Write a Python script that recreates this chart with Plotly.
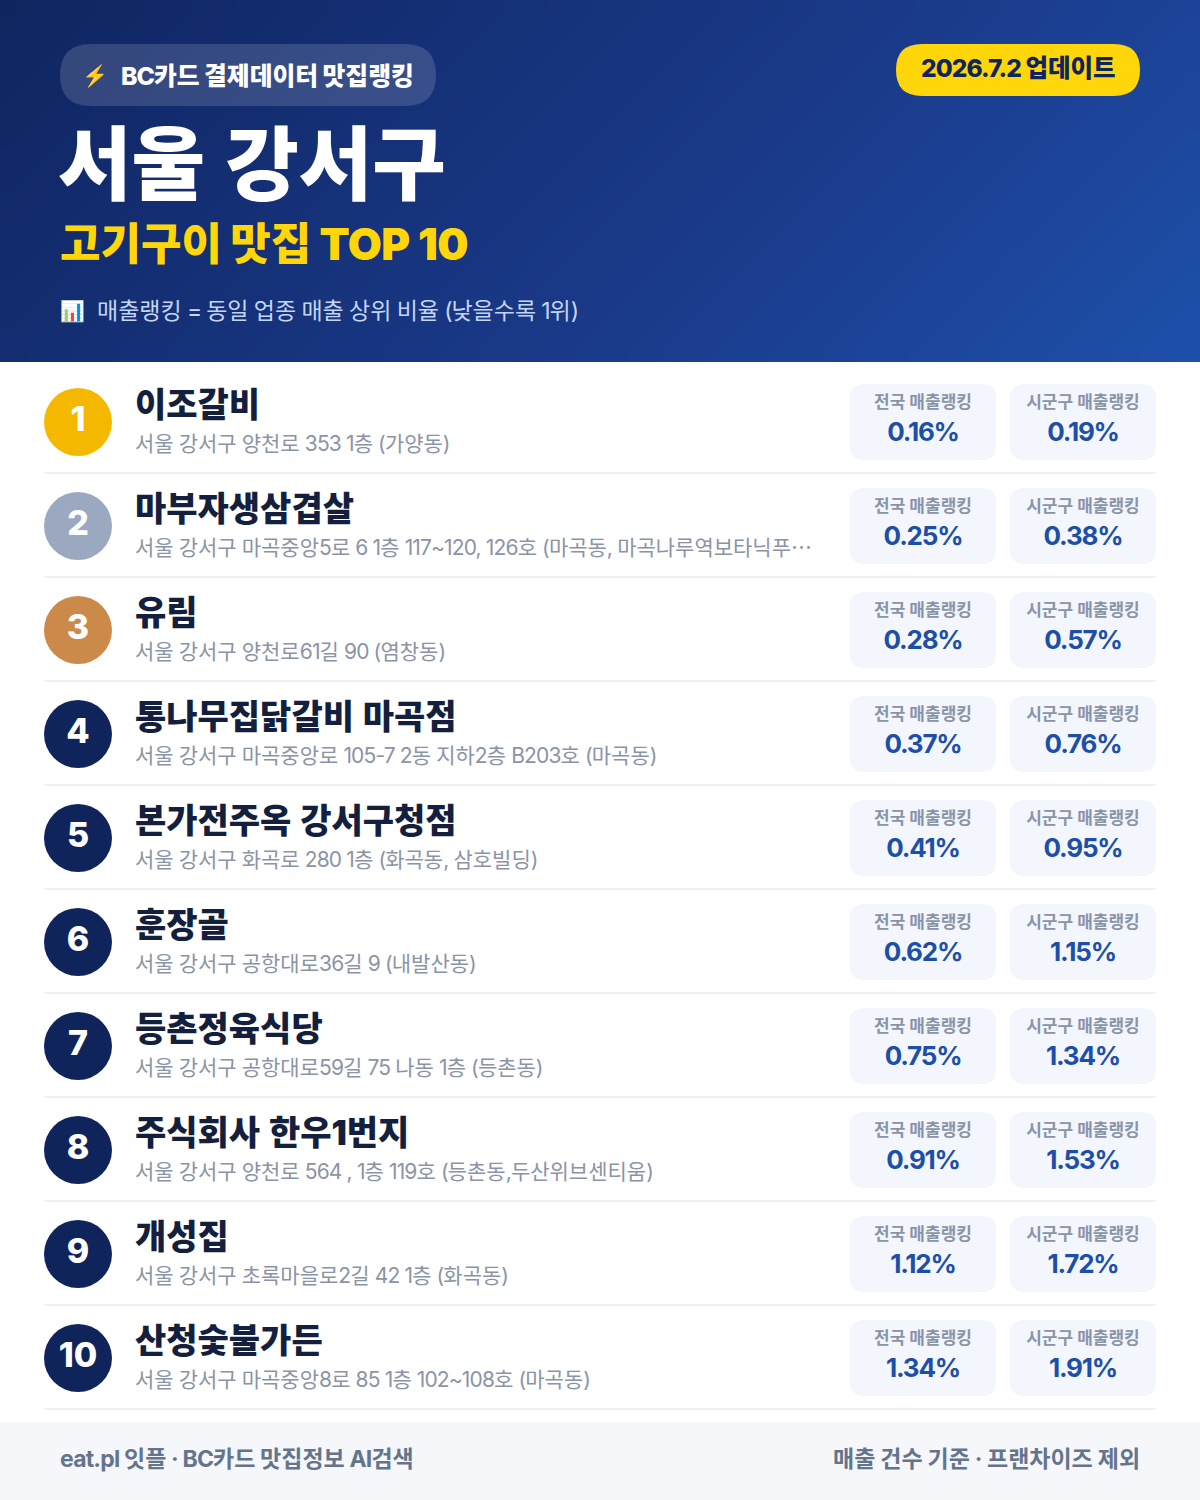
import re
import numpy as np
import plotly.graph_objects as go

ranks = list(range(1, 11))
names = ["이조갈비", "마부자생삼겹살", "유림", "통나무집닭갈비 마곡점", "본가전주옥 강서구청점",
         "훈장골", "등촌정육식당", "주식회사 한우1번지", "개성집", "산청숯불가든"]
addresses = [
    "서울 강서구 양천로 353 1층 (가양동)",
    "서울 강서구 마곡중앙5로 6 1층 117~120, 126호 (마곡동, 마곡나루역보타닉푸⋯",
    "서울 강서구 양천로61길 90 (염창동)",
    "서울 강서구 마곡중앙로 105-7 2동 지하2층 B203호 (마곡동)",
    "서울 강서구 화곡로 280 1층 (화곡동, 삼호빌딩)",
    "서울 강서구 공항대로36길 9 (내발산동)",
    "서울 강서구 공항대로59길 75 나동 1층 (등촌동)",
    "서울 강서구 양천로 564 , 1층 119호 (등촌동,두산위브센티움)",
    "서울 강서구 초록마을로2길 42 1층 (화곡동)",
    "서울 강서구 마곡중앙8로 85 1층 102~108호 (마곡동)",
]
national_pct = [0.16, 0.25, 0.28, 0.37, 0.41, 0.62, 0.75, 0.91, 1.12, 1.34]
sigungu_pct = [0.19, 0.38, 0.57, 0.76, 0.95, 1.15, 1.34, 1.53, 1.72, 1.91]
rank_colors = ["#F5B800", "#9AA8C0", "#CB8A4A"] + ["#10245C"] * 7

FONT = "Inter, Noto Sans CJK KR"
W, H = 1200, 1500
ROW0, PITCH = 422, 104


def ry(py):
    return 1 + (py - ROW0) / PITCH


def P(py):
    return 1 - py / H


def tight(s, px):
    """Tighten only the Latin/digit runs of a label, leaving Hangul at natural width."""
    return re.sub(r"[0-9A-Za-z.,%~()=·\- ]+",
                  lambda m: f'<span style="letter-spacing:{px}px">{m.group(0)}</span>', s)


def wide_space(s, px):
    return s.replace(" ", f'<span style="letter-spacing:{px}px"> </span>')


def rrect(x0, y0, x1, y1, r, fill, layer="above"):
    path = (f"M{x0+r},{ry(y0)} L{x1-r},{ry(y0)} Q{x1},{ry(y0)} {x1},{ry(y0+r)} "
            f"L{x1},{ry(y1-r)} Q{x1},{ry(y1)} {x1-r},{ry(y1)} "
            f"L{x0+r},{ry(y1)} Q{x0},{ry(y1)} {x0},{ry(y1-r)} "
            f"L{x0},{ry(y0+r)} Q{x0},{ry(y0)} {x0+r},{ry(y0)} Z")
    return dict(type="path", path=path, xref="x", yref="y", fillcolor=fill, line_width=0, layer=layer)


def txt(x, y, s, size, color, anchor="left", weight=400):
    return dict(x=x, y=P(y), xref="x", yref="paper", text=s, showarrow=False, xanchor=anchor,
                yanchor="middle", font=dict(family=FONT, size=size, color=color, weight=weight))


fig = go.Figure()

# header gradient
gx = np.linspace(0, W, 61)
gy = np.linspace(0, 362, 19)
gz = [[(a + b) / (W + 362) for a in (gx[:-1] + gx[1:]) / 2] for b in (gy[:-1] + gy[1:]) / 2]
fig.add_trace(go.Heatmap(x=gx, y=[ry(v) for v in gy], z=gz, zmin=0, zmax=1, zsmooth="best",
                         showscale=False, hoverinfo="skip",
                         colorscale=[[0, "#0F2560"], [0.6, "#1A3A8A"], [1, "#1E50AA"]]))

row_y = np.array(ranks, dtype=float)
shapes = []
shapes.append(rrect(60, 44, 436, 106, 31, "rgba(255,255,255,0.15)"))
shapes.append(rrect(896, 44, 1140, 96, 26, "#FFD60A"))
shapes.append(dict(type="rect", xref="x", yref="paper", x0=0, x1=W, y0=P(1500), y1=P(1422),
                   fillcolor="#F5F7FB", line_width=0))
for r in ranks:
    c = ROW0 + PITCH * (r - 1)
    shapes.append(rrect(850, c - 38, 996, c + 38, 14, "#F3F6FD", "below"))
    shapes.append(rrect(1010, c - 38, 1156, c + 38, 14, "#F3F6FD", "below"))
    shapes.append(dict(type="rect", xref="x", yref="paper", x0=44, x1=1156, y0=P(c + 52),
                       y1=P(c + 50), fillcolor="#EEF0F3", line_width=0))

# rank badges
fig.add_trace(go.Scatter(x=[78] * 10, y=ranks, mode="markers+text", text=[str(r) for r in ranks],
                         textposition="middle center", hoverinfo="skip",
                         marker=dict(size=68, color=rank_colors, line_width=0),
                         textfont=dict(family=FONT, size=34, color="#FFFFFF", weight=800)))
# names / addresses
fig.add_trace(go.Scatter(x=[135] * 10, y=row_y - 14 / PITCH, mode="text",
                         text=[wide_space(n, 2) for n in names],
                         textposition="middle right", hoverinfo="skip",
                         textfont=dict(family=FONT, size=34, color="#141F3D", weight=900)))
fig.add_trace(go.Scatter(x=[135] * 10, y=row_y + 24 / PITCH, mode="text",
                         text=[tight(a, -0.85) for a in addresses],
                         textposition="middle right", hoverinfo="skip",
                         textfont=dict(family=FONT, size=21, color="#8A94A6", weight=400)))
# metric cards
for cx, vals, label in [(923, national_pct, "전국 매출랭킹"), (1083, sigungu_pct, "시군구 매출랭킹")]:
    fig.add_trace(go.Scatter(x=[cx] * 10, y=row_y - 18 / PITCH, mode="text", text=[label] * 10,
                             textposition="middle center", hoverinfo="skip",
                             textfont=dict(family=FONT, size=17, color="#8A94A6", weight=700)))
    fig.add_trace(go.Scatter(x=[cx] * 10, y=row_y + 12 / PITCH, mode="text",
                             text=[tight(f"{v:.2f}%", -1.2) for v in vals],
                             textposition="middle center", hoverinfo="skip",
                             textfont=dict(family=FONT, size=26, color="#1E4FA8", weight=700)))

annotations = [
    txt(80, 76, "⚡", 21, "#FFFFFF"),
    txt(119, 76, tight("BC카드 결제데이터 맛집랭킹", -1), 24.8, "#FFFFFF", weight=800),
    txt(1018, 68, tight("2026.7.2 업데이트", -0.9), 24.5, "#10245C", "center", 800),
    txt(56, 164, wide_space("서울 강서구", 4), 80, "#FFFFFF", weight=900),
    txt(58, 244, tight("고기구이 맛집 TOP 10", -0.5), 44, "#FFD60A", weight=900),
    txt(58, 311, "📊", 20, "#FFFFFF"),
    txt(95, 311, tight("매출랭킹 = 동일 업종 매출 상위 비율 (낮을수록 1위)", -1.2), 23, "#C5D6F5"),
    txt(58, 1459, tight("eat.pl 잇플 · BC카드 맛집정보 AI검색", -0.8), 23, "#64748B", weight=700),
    txt(1142, 1459, tight("매출 건수 기준 · 프랜차이즈 제외", -0.5), 23, "#64748B", "right", 700),
]

fig.update_layout(
    width=W, height=H, margin=dict(l=0, r=0, t=0, b=0), showlegend=False,
    paper_bgcolor="#FFFFFF", plot_bgcolor="#FFFFFF",
    shapes=shapes, annotations=annotations,
    xaxis=dict(range=[0, W], visible=False, fixedrange=True),
    yaxis=dict(range=[ry(H), ry(0)], visible=False, fixedrange=True),
)
fig.write_html("out.html", config={"displayModeBar": False},
               post_script="document.body.style.margin='0';document.body.style.overflow='hidden';")
